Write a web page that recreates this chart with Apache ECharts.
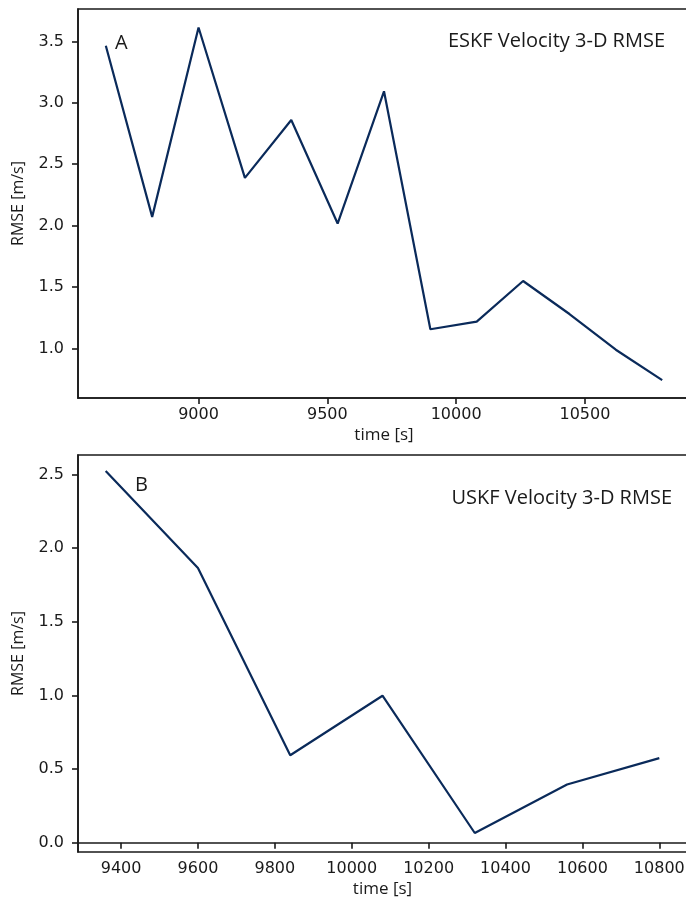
<!DOCTYPE html>
<html>
<head>
<meta charset="utf-8">
<script src="https://cdn.jsdelivr.net/npm/echarts@6/dist/echarts.min.js"></script>
<style>html,body{margin:0;padding:0;background:#fff;}#c{width:686px;height:900px;}</style>
</head>
<body>
<div id="c"></div>
<script>
// Panel A: ESKF
const timeA = [8640, 8820, 9000, 9180, 9360, 9540, 9720, 9900, 10080, 10260, 10440, 10620, 10800];
const rmseA = [3.465, 2.071, 3.613, 2.389, 2.86, 2.017, 3.094, 1.156, 1.218, 1.549, 1.28, 0.989, 0.742];
const xTicksA = [9000, 9500, 10000, 10500];
const yTicksA = [1.0, 1.5, 2.0, 2.5, 3.0, 3.5];
// Panel B: USKF
const timeB = [9360, 9600, 9840, 10080, 10320, 10560, 10800];
const rmseB = [2.523, 1.865, 0.594, 0.998, 0.066, 0.395, 0.574];
const xTicksB = [9400, 9600, 9800, 10000, 10200, 10400, 10600, 10800];
const yTicksB = [0.0, 0.5, 1.0, 1.5, 2.0, 2.5];

const titleA = 'ESKF Velocity 3-D RMSE';
const titleB = 'USKF Velocity 3-D RMSE';
const xName = 'time [s]';
const yName = 'RMSE [m/s]';

const lineColor = '#0a2a5a';
const axisColor = '#1a1a1a';
const tickFont = {fontFamily: 'DejaVu Sans', fontSize: 16, color: '#1a1a1a'};
const nameFont = {fontFamily: 'Open Sans', fontSize: 16, color: '#1a1a1a'};

function xAxis(gi, min, max, ticks) {
  return {
    type: 'value', gridIndex: gi, min: min, max: max,
    axisLine: {show: true, lineStyle: {color: axisColor, width: 1.6}},
    axisTick: {show: true, length: 6, lineStyle: {color: axisColor, width: 1.6}, customValues: ticks},
    axisLabel: Object.assign({margin: 9, customValues: ticks, formatter: v => String(v)}, tickFont),
    splitLine: {show: false},
    name: xName, nameLocation: 'middle', nameGap: 29,
    nameTextStyle: Object.assign({}, nameFont, {fontSize: 17})
  };
}
function yAxis(gi, min, max, ticks) {
  return {
    type: 'value', gridIndex: gi, min: min, max: max,
    axisLine: {show: true, lineStyle: {color: axisColor, width: 1.6}},
    axisTick: {show: true, length: 6, lineStyle: {color: axisColor, width: 1.6}, customValues: ticks},
    axisLabel: Object.assign({margin: 14, customValues: ticks, formatter: v => v.toFixed(1)}, tickFont),
    splitLine: {show: false},
    name: yName, nameLocation: 'middle', nameGap: 52,
    nameTextStyle: nameFont
  };
}

const chart = echarts.init(document.getElementById('c'), null, {renderer: 'canvas'});
chart.setOption({
  animation: false,
  backgroundColor: '#fff',
  grid: [
    {left: 78, top: 9, height: 389, width: 612, outerBoundsMode: 'none', containLabel: false, show: true, borderColor: axisColor, borderWidth: 1.6, backgroundColor: 'transparent'},
    {left: 78, top: 455, height: 397, width: 609, outerBoundsMode: 'none', containLabel: false, show: true, borderColor: axisColor, borderWidth: 1.6, backgroundColor: 'transparent'}
  ],
  xAxis: [xAxis(0, 8532, 10908, xTicksA), xAxis(1, 9288, 10872, xTicksB)],
  yAxis: [yAxis(0, 0.596, 3.764, yTicksA), yAxis(1, -0.063, 2.632, yTicksB)],
  series: [
    {type: 'line', xAxisIndex: 0, yAxisIndex: 0, data: timeA.map((t, i) => [t, rmseA[i]]),
     showSymbol: false, lineStyle: {color: lineColor, width: 2.2}, itemStyle: {color: lineColor}},
    {type: 'line', xAxisIndex: 1, yAxisIndex: 1, data: timeB.map((t, i) => [t, rmseB[i]]),
     showSymbol: false, lineStyle: {color: lineColor, width: 2.2}, itemStyle: {color: lineColor}}
  ],
  graphic: [
    {type: 'text', x: 665, y: 41, style: {text: titleA, align: 'right', verticalAlign: 'middle', font: '20px "Open Sans"', fill: '#1a1a1a'}},
    {type: 'text', x: 672, y: 498, style: {text: titleB, align: 'right', verticalAlign: 'middle', font: '20px "Open Sans"', fill: '#1a1a1a'}},
    {type: 'text', x: 115, y: 43, style: {text: 'A', align: 'left', verticalAlign: 'middle', font: '20px "Open Sans"', fill: '#1a1a1a'}},
    {type: 'text', x: 135, y: 485, style: {text: 'B', align: 'left', verticalAlign: 'middle', font: '20px "Open Sans"', fill: '#1a1a1a'}}
  ]
});
</script>
</body>
</html>
